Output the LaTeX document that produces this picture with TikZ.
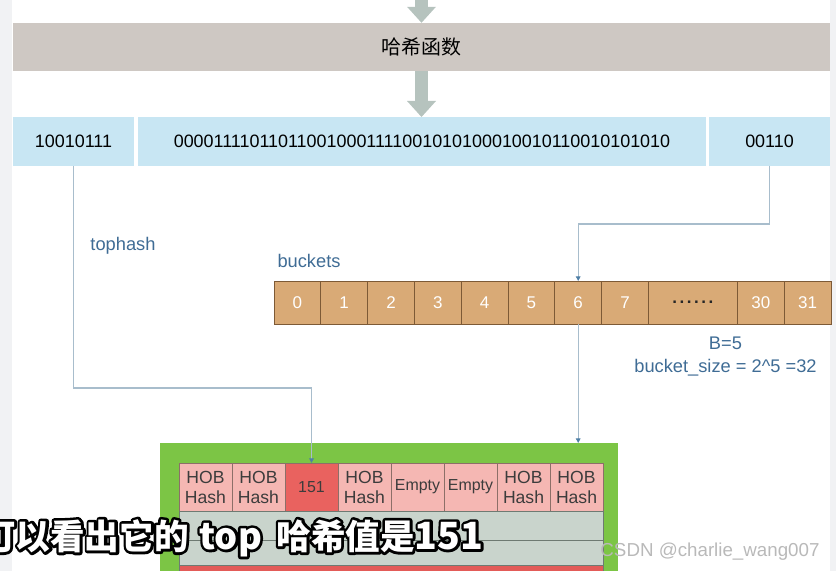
\documentclass[tikz,border=0pt]{standalone}
\usepackage{fontspec}
\setmainfont{Liberation Sans}
\newfontfamily\cjk{Noto Sans CJK SC}
\newfontfamily\subfont{Noto Sans CJK SC}
\usetikzlibrary{arrows.meta,positioning}

\definecolor{stripgray}{HTML}{F1F2F4}
\definecolor{hashgray}{HTML}{CEC8C3}
\definecolor{arrowgreen}{HTML}{B6C3BE}
\definecolor{bitblue}{HTML}{C8E6F3}
\definecolor{linkgray}{HTML}{A8BDCC}
\definecolor{linkhead}{HTML}{4F7FA6}
\definecolor{labelblue}{HTML}{3F6C95}
\definecolor{bucketfill}{HTML}{D9AA76}
\definecolor{bucketdraw}{HTML}{7D5A36}
\definecolor{bucketgreen}{HTML}{7CC545}
\definecolor{hobpink}{HTML}{F5B7B3}
\definecolor{hobdraw}{HTML}{8C6F68}
\definecolor{hobtext}{HTML}{3C3C3C}
\definecolor{topred}{HTML}{E9625F}
\definecolor{rowgray}{HTML}{C9D4CC}
\definecolor{rowdraw}{HTML}{6E7A72}
\definecolor{ovfred}{HTML}{E35B58}

\newcommand{\subline}{可以看出它的 \hspace{0.09cm}{\fontsize{31}{34}\selectfont top} \hspace{0.2cm}哈希值是{\fontsize{32}{34}\selectfont 151}}

\begin{document}
\begin{tikzpicture}[x=0.03cm,y=-0.03cm]

        \tikzstyle{bitbox}=[rectangle,fill=bitblue,minimum height=1.47cm,inner sep=0pt,outer sep=0pt,font=\fontsize{15.3}{18}\selectfont]
        \tikzstyle{cell}=[rectangle,draw=bucketdraw,fill=bucketfill,line width=0.6pt,minimum width=1.404cm,minimum height=1.29cm,inner sep=0pt,outer sep=0pt,text=white,font=\fontsize{14.5}{17}\selectfont]
        \tikzstyle{hob}=[rectangle,draw=hobdraw,fill=hobpink,line width=0.6pt,minimum width=1.59cm,minimum height=1.44cm,inner sep=0pt,outer sep=0pt,align=center,text=hobtext,font=\fontsize{15}{17}\selectfont]
        \tikzstyle{slotrow}=[rectangle,draw=rowdraw,fill=rowgray,line width=0.6pt,minimum width=12.72cm,inner sep=0pt,outer sep=0pt]
        \tikzstyle{bluetext}=[text=labelblue,font=\fontsize{15.6}{19.6}\selectfont]
        \tikzstyle{link}=[draw=linkgray,line width=0.9pt,-{Triangle[length=4pt,width=4pt,color=linkhead]}]
        \tikzstyle{blockarrow}=[draw=arrowgreen,line width=0.39cm,-{Triangle[length=0.48cm,width=0.87cm,line width=0pt,color=arrowgreen]}]
        \tikzstyle{subtext}=[anchor=west,inner sep=0pt,font=\subfont\bfseries\fontsize{29.5}{34}\selectfont]

        \useasboundingbox (0,0) rectangle (836,571);
        \fill[stripgray] (0,0) rectangle (12,571);
        \fill[stripgray] (830,0) rectangle (836,571);

        % hash function
        \coordinate (feed) at (421.5,0);
        \node[rectangle,fill=hashgray,minimum width=24.51cm,minimum height=1.44cm,inner sep=0pt,font=\cjk\fontsize{17}{20}\selectfont] (hash) at (421.5,47) {哈希函数};

        % hash value bits
        \node[bitbox,minimum width=3.63cm] (tbits) at (73.5,141.5) {10010111};
        \node[bitbox,minimum width=17.04cm] (midbits) [right=0.12cm of tbits] {000011110110110010001111001010100010010110010101010};
        \node[bitbox,minimum width=3.63cm] (lowbits) [right=0.09cm of midbits] {00110};

        \draw[blockarrow] (feed) -- (hash.north);
        \draw[blockarrow] (hash.south) -- (hash.south |- midbits.north);

        \node[bluetext] (tophash) at (123,246) {tophash};
        \node[bluetext] (buckets) at (309,261) {buckets};
        \node[bluetext,align=center] (bsize) at (725.5,356.5) {B=5\\bucket\_size = 2\textasciicircum 5 =32};

        % buckets array
        \node[cell] (b0) at (297.4,302.5) {0};
        \node[cell] (b1) [right=0cm of b0] {1};
        \node[cell] (b2) [right=0cm of b1] {2};
        \node[cell] (b3) [right=0cm of b2] {3};
        \node[cell] (b4) [right=0cm of b3] {4};
        \node[cell] (b5) [right=0cm of b4] {5};
        \node[cell] (b6) [right=0cm of b5] {6};
        \node[cell] (b7) [right=0cm of b6] {7};
        \node[cell,minimum width=2.67cm,text=black!85] (bdots) [right=0cm of b7] {\bfseries\addfontfeature{LetterSpace=15}......};
        \node[cell] (b30) [right=0cm of bdots] {30};
        \node[cell] (b31) [right=0cm of b30] {31};

        % bucket
        \node[rectangle,fill=bucketgreen,minimum width=13.74cm,minimum height=3.84cm,inner sep=0pt,outer sep=0pt] (bucket) at (389,507) {};
        \node[hob] (t1) at (205.5,487) {HOB\\Hash};
        \node[hob] (t2) [right=0cm of t1] {HOB\\Hash};
        \node[hob,fill=topred,font=\fontsize{13.6}{16}\selectfont] (t3) [right=0cm of t2] {151};
        \node[hob] (t4) [right=0cm of t3] {HOB\\Hash};
        \node[hob,font=\fontsize{13.6}{16}\selectfont] (t5) [right=0cm of t4] {Empty};
        \node[hob,font=\fontsize{13.6}{16}\selectfont] (t6) [right=0cm of t5] {Empty};
        \node[hob] (t7) [right=0cm of t6] {HOB\\Hash};
        \node[hob] (t8) [right=0cm of t7] {HOB\\Hash};
        \node[slotrow,minimum height=0.87cm] (keyrow) [below right=0cm and 0cm of t1.south west] {};
        \node[slotrow,minimum height=0.75cm] (valrow) [below=0cm of keyrow] {};
        \node[slotrow,minimum height=0.18cm,fill=ovfred] (ovfrow) [below=0cm of valrow] {};

        % connectors
        \coordinate (tlevel) at (0,388);
        \coordinate (llevel) at (0,224);
        \draw[link] (tbits.south) |- (tlevel -| t3.north) -- (t3.north);
        \draw[link] (lowbits.south) |- (llevel -| b6.north) -- (b6.north);
        \draw[link] (b6.south) -- (b6.south |- bucket.north);

        % subtitle and mark
        \node[subtext,text=black] (subshadow) at (-19,538) {\special{pdf:literal direct 2 Tr 4.6 w 1 j}\subline\special{pdf:literal direct 0 Tr 0 j}};
        \node[subtext,text=white] (subtitle) at (subshadow.west) {\subline};
        \node[text=gray!55,font=\fontsize{16}{19}\selectfont] (mark) at (710,552) {CSDN @charlie\_wang007};
\end{tikzpicture}
\end{document}
